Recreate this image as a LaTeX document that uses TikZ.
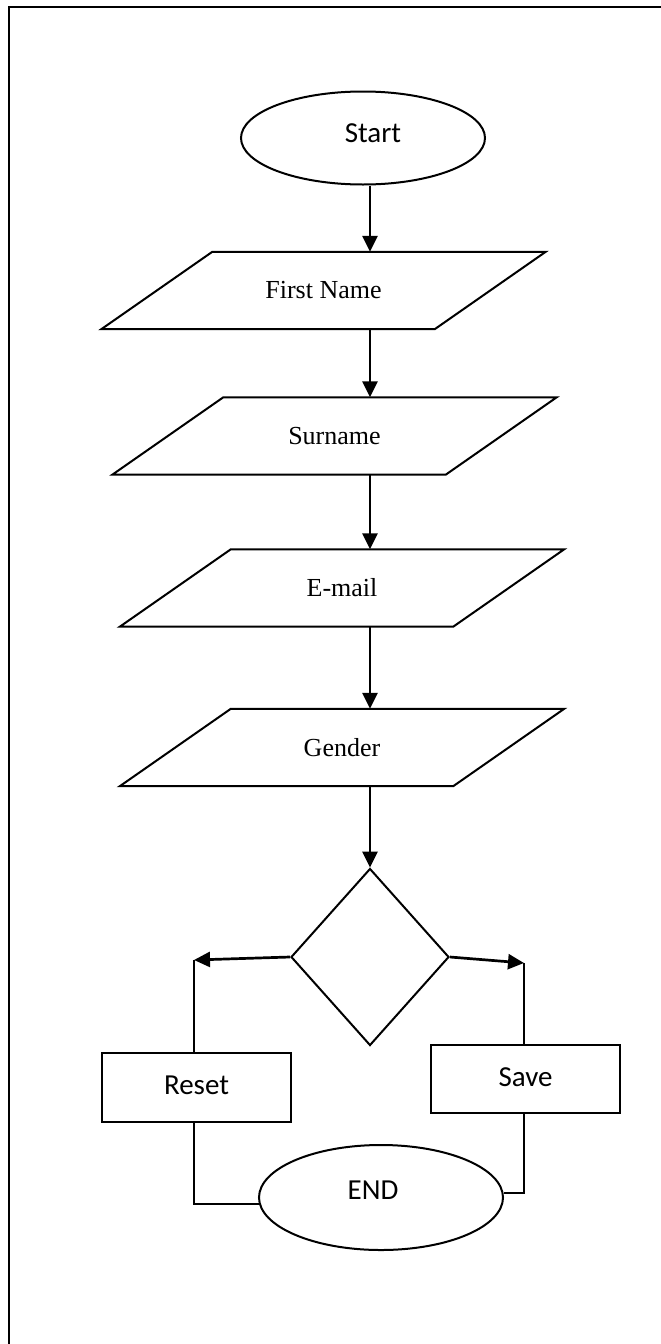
\documentclass[tikz,border=0pt]{standalone}
\usepackage{fontspec}
\setmainfont{Liberation Serif}
\newfontfamily\carlito{Carlito}
\usetikzlibrary{shapes.geometric,arrows.meta}

\begin{document}
\begin{tikzpicture}[x=1pt,y=-1pt,
  shapeline/.style={draw=black,line width=2pt},
  term/.style={shapeline,ellipse,inner sep=0pt,font=\carlito\fontsize{29}{32}\selectfont},
  io/.style={inner sep=0pt,minimum width=444pt,minimum height=77pt,font=\fontsize{26}{30}\selectfont},
  procbox/.style={shapeline,rectangle,inner sep=0pt,minimum width=189pt,font=\carlito\fontsize{29}{32}\selectfont},
  decision/.style={shapeline,diamond,inner sep=0pt,minimum width=158pt,minimum height=177pt,aspect=0.89},
  flow/.style={line width=2.7pt,-{Triangle[length=16pt,width=15pt]}},
  plain/.style={line width=2pt}]

\useasboundingbox (0,0) rectangle (661,1344);

% page frame
\draw[line width=2.4pt] (9,1344) -- (9,7) -- (661,7);

% terminals
\node[term,minimum width=244pt,minimum height=93pt,
      label={[xshift=10pt,yshift=5pt,font=\carlito\fontsize{29}{32}\selectfont]center:Start}]
      (start) at (363,138) {};
\node[term,minimum width=244pt,minimum height=105pt,
      label={[xshift=-8pt,yshift=7pt,font=\carlito\fontsize{29}{32}\selectfont]center:END}]
      (end) at (381,1197.5) {};

% input parallelograms
\node[io] (fn)  at (323.5,290.5) {First Name};
\node[io] (sn)  at (334.5,436)   {Surname};
\node[io] (em)  at (342,588)     {E-mail};
\node[io] (gen) at (342,747.5)   {Gender};
\foreach \n in {fn,sn,em,gen}{
  \draw[shapeline] ([xshift=111pt]\n.north west) -- (\n.north east)
    -- ([xshift=-111pt]\n.south east) -- (\n.south west) -- cycle;
}

% decision and actions
\node[decision] (dec) at (370,957) {};
\node[procbox,minimum height=69pt] (reset) at (196.5,1087.5) {\raisebox{4pt}{Reset}};
\node[procbox,minimum height=68pt] (save)  at (525.5,1079)   {\raisebox{3pt}{Save}};

\coordinate (lc) at (194,960);
\coordinate (rc) at (524,963);

% main spine
\draw[flow] (start.south -| dec) -- (fn.north -| dec);
\draw[flow] (fn.south -| dec) -- (sn.north -| dec);
\draw[flow] (sn.south -| dec) -- (em.north -| dec);
\draw[flow] (em.south -| dec) -- (gen.north -| dec);
\draw[flow] (gen.south -| dec) -- (dec.north);

% branches
\draw[flow] (dec.west) -- (lc);
\draw[flow] (dec.east) -- (rc);
\draw[plain] (lc) -- (reset.north -| lc);
\draw[plain] (rc) -- (save.north -| rc);
\draw[plain] (reset.south -| lc) |- (end.183);
\draw[plain] (save.south -| rc) |- (end.2);

\end{tikzpicture}
\end{document}
